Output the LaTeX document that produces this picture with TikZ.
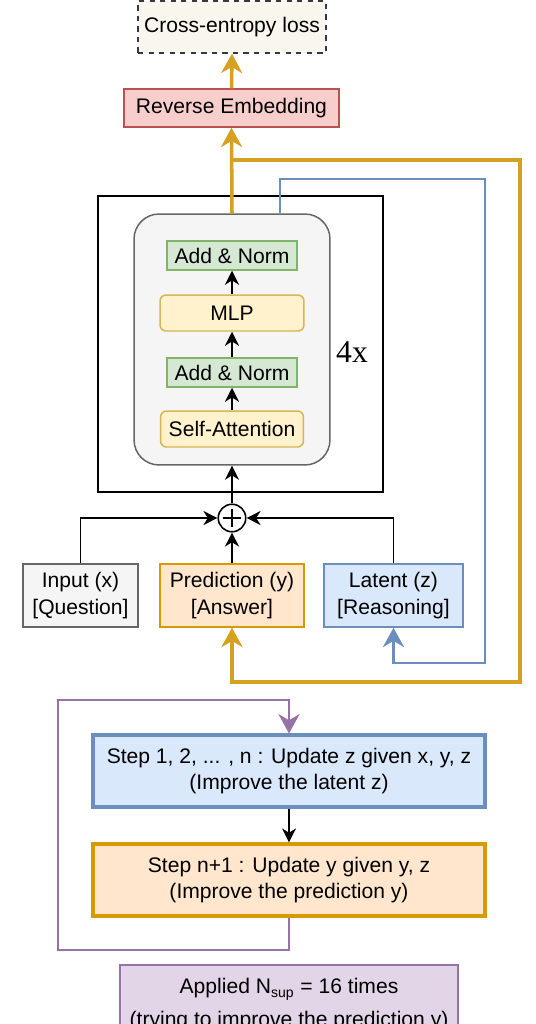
\documentclass[tikz,border=0pt]{standalone}
\usepackage{fontspec}
\setmainfont{Liberation Sans}
\newfontfamily\timesfont{Liberation Serif}
\usetikzlibrary{arrows.meta}

\definecolor{goldline}{RGB}{214,160,32}
\definecolor{blueline}{RGB}{108,142,191}
\definecolor{purpleline}{RGB}{150,115,166}
\definecolor{lossfill}{RGB}{249,247,237}
\definecolor{lossdraw}{RGB}{54,57,61}
\definecolor{redfill}{RGB}{248,206,204}
\definecolor{reddraw}{RGB}{184,84,80}
\definecolor{greenfill}{RGB}{213,232,212}
\definecolor{greendraw}{RGB}{130,179,102}
\definecolor{yellowfill}{RGB}{255,242,204}
\definecolor{yellowdraw}{RGB}{214,182,86}
\definecolor{orangefill}{RGB}{255,230,204}
\definecolor{orangedraw}{RGB}{215,155,0}
\definecolor{bluefill}{RGB}{218,232,252}
\definecolor{greyfill}{RGB}{245,245,245}
\definecolor{greydraw}{RGB}{102,102,102}
\definecolor{purplefill}{RGB}{225,213,231}

\tikzset{
	block/.style={draw, line width=0.85pt, inner sep=0pt, align=center},
	layer/.style={block, minimum height=0.72cm, rounded corners=0.12cm, fill=yellowfill, draw=yellowdraw},
	normlayer/.style={block, minimum width=2.6cm, minimum height=0.58cm, fill=greenfill, draw=greendraw},
	inbox/.style={block, minimum height=1.26cm},
	stepbox/.style={block, line width=1.8pt, minimum width=7.84cm, minimum height=1.44cm},
	flow/.style={line width=0.8pt, -{Stealth[length=8pt, width=8pt, inset=2.5pt]}},
	goldflow/.style={draw=goldline, line width=2pt, -{Stealth[length=11pt, width=12pt, inset=3.5pt]}},
	blueflow/.style={draw=blueline, line width=1.6pt, -{Stealth[length=11pt, width=12pt, inset=3.5pt]}},
	purpleflow/.style={draw=purpleline, line width=1.6pt, -{Stealth[length=11pt, width=12pt, inset=3.5pt]}}
}

\begin{document}
\begin{tikzpicture}[x=0.02cm, y=-0.02cm, font=\fontsize{12}{15.3}\selectfont]
	\useasboundingbox (0,0) rectangle (535,1024);
	\clip (0,0) rectangle (535,1024);

	\node[block, dashed, fill=lossfill, draw=lossdraw, minimum width=3.76cm, minimum height=1.04cm] (loss) at (232,27) {Cross-entropy loss};
	\node[block, fill=redfill, draw=reddraw, minimum width=4.3cm, minimum height=0.76cm] (revemb) at (231.5,108) {Reverse Embedding};

	\node[block, minimum width=5.7cm, minimum height=5.92cm] (outer) at (240.5,344) {};
	\node[block, fill=greyfill, draw=greydraw, rounded corners=0.5cm, minimum width=3.92cm, minimum height=5.02cm] (inner) at (232,339.5) {};
	\node[normlayer] (normtop) at (232,255.5) {Add \& Norm};
	\node[layer, minimum width=2.88cm] (mlp) at (232,313) {MLP};
	\node[normlayer] (normlow) at (232,372.5) {Add \& Norm};
	\node[layer, minimum width=2.86cm] (attn) at (232,429) {Self-Attention};
	\node[font=\timesfont\fontsize{18}{18}\selectfont] (reps) at (352,352) {4x};

	\draw[flow] (attn) -- (normlow);
	\draw[flow] (normlow) -- (mlp);
	\draw[flow] (mlp) -- (normtop);

	\node[circle, draw, line width=0.9pt, minimum size=0.55cm, inner sep=0pt,
		path picture={\draw[line width=1.5pt] ([yshift=-2.5pt]path picture bounding box.north) -- ([yshift=2.5pt]path picture bounding box.south)
			([xshift=2.5pt]path picture bounding box.west) -- ([xshift=-2.5pt]path picture bounding box.east);}] (plus) at (232,518) {};

	\node[inbox, fill=greyfill, draw=greydraw, minimum width=2.3cm] (input) at (80.5,595.5) {Input (x)\\{}[Question]};
	\node[inbox, fill=orangefill, draw=orangedraw, minimum width=2.88cm] (pred) at (232,595.5) {Prediction (y)\\{}[Answer]};
	\node[inbox, fill=bluefill, draw=blueline, minimum width=2.78cm] (latent) at (393.5,595.5) {Latent (z)\\{}[Reasoning]};

	\draw[flow] (input.north) |- (plus.west);
	\draw[flow] (latent.north) |- (plus.east);
	\draw[flow] (pred.north) -- (plus.south);
	\draw[flow] (plus.north) -- (inner.south);

	\coordinate (split) at (232,160);
	\draw[goldflow] (inner.north) -- (revemb.south);
	\draw[goldflow] (revemb.north) -- (loss.south);
	\draw[goldflow] (split) -| (520,682) -| (pred.south);
	\draw[blueflow] ([xshift=0.96cm]inner.north) |- (485,179) -- (485,663) -| (latent.south);

	\node[stepbox, fill=bluefill, draw=blueline] (stepz) at (289,771) {Step 1, 2, ... , n : Update z given x, y, z\\(Improve the latent z)};
	\node[stepbox, fill=orangefill, draw=orangedraw] (stepy) at (289,880) {Step n+1 : Update y given y, z\\(Improve the prediction y)};
	\node[block, fill=purplefill, draw=purpleline, line width=1.6pt, minimum width=6.76cm, minimum height=1.6cm] (nsup) at (289,1005) {Applied N\textsubscript{sup} = 16 times\\[3.5pt](trying to improve the prediction y)};

	\draw[flow] (stepz) -- (stepy);
	\draw[purpleflow] (stepy.south) -- (289,950) -| (58,700) -| (stepz.north);
\end{tikzpicture}
\end{document}
